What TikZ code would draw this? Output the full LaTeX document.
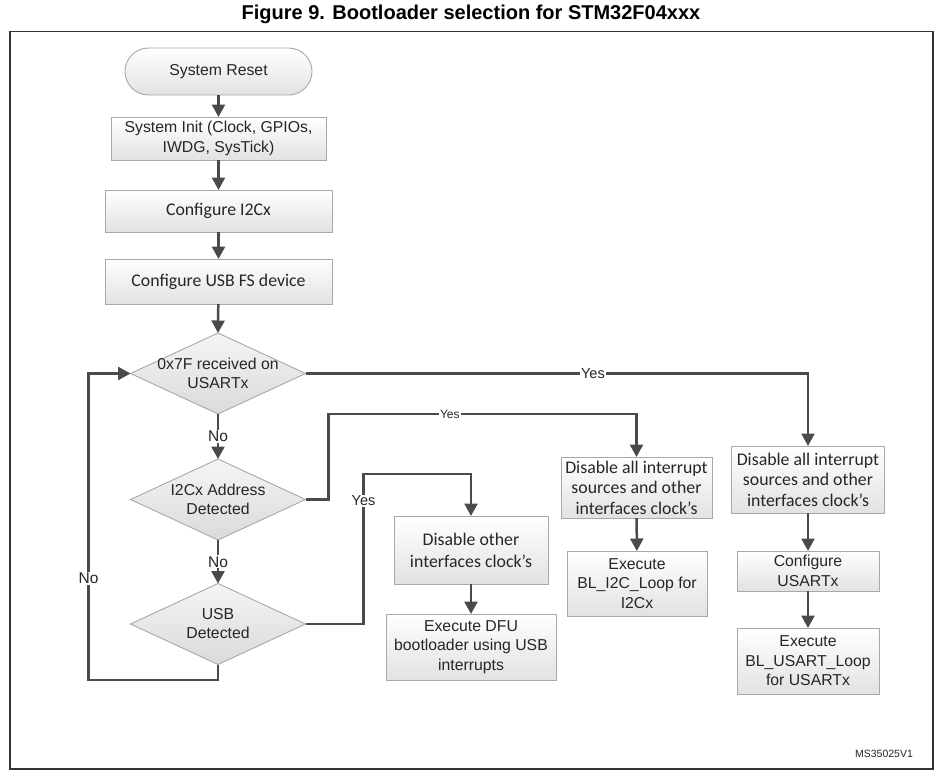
\documentclass[tikz,border=0pt]{standalone}
\usepackage{fontspec}
\setmainfont{Liberation Sans}
\newfontfamily\calfont{Carlito}
\usetikzlibrary{shapes.geometric,arrows.meta,calc}
\definecolor{linec}{HTML}{4A4A4A}
\definecolor{boxc}{HTML}{A8A8A8}
\definecolor{txtc}{HTML}{262626}
\definecolor{fillb}{HTML}{E2E2E2}
\definecolor{dfill}{HTML}{DADADA}
\definecolor{framec}{HTML}{333333}
\newcommand\fA{\fontsize{15.8}{19.5}\selectfont}
\newcommand\fC{\calfont\fontsize{17.8}{20.5}\selectfont}
\begin{document}
\begin{tikzpicture}[x=1pt,y=-1pt,
  arr/.style={draw=linec,line width=2.5pt,-{Triangle[width=13pt,length=12.5pt]}},
  box/.style={draw=boxc,line width=0.9pt,top color=white,bottom color=fillb,
    inner sep=0pt,outer sep=0pt,align=center,text=txtc,font=\fA},
  cal/.style={font=\fC},
  stad/.style={box,rounded corners=23.5pt,minimum width=187pt,minimum height=47pt},
  dia/.style={diamond,draw=boxc,line width=0.9pt,top color=white!96!black,bottom color=dfill,
    inner sep=0pt,outer sep=0pt,minimum width=175pt,minimum height=81pt},
  dlab/.style={align=center,text=txtc,font=\fontsize{15.8}{19}\selectfont},
  ylab/.style={fill=white,inner sep=1pt,text=txtc,font=\fontsize{14.5}{16}\selectfont},
  ylabs/.style={fill=white,inner sep=1pt,text=txtc,font=\fontsize{12}{14}\selectfont},
  nlab/.style={fill=white,inner sep=1pt,text=txtc,font=\fontsize{15.5}{17}\selectfont}
]
\fill[white] (0,0) rectangle (944,776);
\useasboundingbox (0,0) rectangle (944,776);

\node[anchor=base,font=\bfseries\fontsize{20}{24}\selectfont] (title) at (471,19.5) {Figure 9. Bootloader selection for STM32F04xxx};
\draw[line width=1.4pt,draw=framec] (10,31.5) rectangle (933,769);

% main column
\node[stad] (sr) at (218.5,71.5) {System Reset};
\node[box,minimum width=215pt,minimum height=43pt] (si) at (218.5,138.5) {System Init (Clock, GPIOs,\\IWDG, SysTick)};
\node[box,cal,minimum width=227pt,minimum height=42pt] (ci) at (218.5,211) {Configure I2Cx};
\node[box,cal,minimum width=227pt,minimum height=45pt] (cu) at (218.5,281.5) {Configure USB FS device};

\node[dia,label={[dlab]center:{0x7F received on\\USARTx}}] (d1) at (218,373.5) {};
\node[dia,label={[dlab]center:{I2Cx Address\\Detected}}] (d2) at (218,499.5) {};
\node[dia,label={[dlab]center:{USB\\Detected}}] (d3) at (218,624) {};

% right column
\node[box,cal,minimum width=153pt,minimum height=67pt] (r1) at (808,479.5) {Disable all interrupt\\sources and other\\interfaces clock’s};
\node[box,minimum width=142pt,minimum height=40pt] (r2) at (808,571) {Configure\\USARTx};
\node[box,minimum width=142pt,minimum height=66pt] (r3) at (808,661) {Execute\\BL\_USART\_Loop\\for USARTx};

% middle column
\node[box,cal,minimum width=151pt,minimum height=61pt] (m1) at (636.5,487.5) {Disable all interrupt\\sources and other\\interfaces clock’s};
\node[box,minimum width=140pt,minimum height=65pt] (m2) at (637,583.5) {Execute\\BL\_I2C\_Loop for\\I2Cx};

% usb column
\node[box,minimum width=154pt,minimum height=68pt,font=\calfont\fontsize{17.8}{22}\selectfont] (u1) at (471,550) {Disable other\\interfaces clock’s};
\node[box,minimum width=170pt,minimum height=66pt] (u2) at (471,647) {Execute DFU\\bootloader using USB\\interrupts};

\node[font=\fontsize{10.5}{12}\selectfont,text=txtc] (ms) at (884,754) {MS35025V1};

% connectors
\draw[arr] (sr) -- (si);
\draw[arr] (si) -- (ci);
\draw[arr] (ci) -- (cu);
\draw[arr] (cu) -- (d1.north);
\draw[arr] (d1.south) -- node[nlab]{No} (d2.north);
\draw[arr] (d2.south) -- node[nlab]{No} (d3.north);
\draw[arr] (d3.south) -- ++(0,15.5) -| node[nlab,pos=0.666]{No} ($(d1.west)+(-42,0)$) -- (d1.west);
\draw[arr] (d1.east) -| node[ylab,pos=0.286]{Yes} (r1.north);
\draw[arr] (r1) -- (r2);
\draw[arr] (r2) -- (r3);
\draw[arr] (d2.east) -- ++(23,0) |- node[ylabs,pos=0.697]{Yes} ($(m1.north)+(0,-43)$) -- (m1.north);
\draw[arr] (m1) -- (m2);
\draw[arr] (d3.east) -- ++(58,0) |- node[ylab,pos=0.41]{Yes} ($(u1.north)+(0,-42)$) -- (u1.north);
\draw[arr] (u1) -- (u2);
\end{tikzpicture}
\end{document}
